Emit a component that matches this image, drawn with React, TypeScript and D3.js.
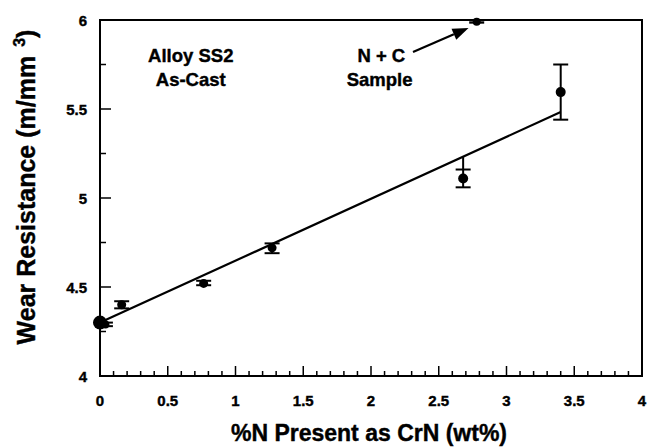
import React from "react";
import * as d3 from "d3";

const xValues = [0, 0.04, 0.16, 0.765, 1.27, 2.68, 3.4];
const yValues = [4.3, 4.29, 4.4, 4.52, 4.72, 5.11, 5.595];
const errLow = [4.3, 4.28, 4.38, 4.51, 4.69, 5.06, 5.44];
const errHigh = [4.3, 4.3, 4.42, 4.535, 4.745, 5.16, 5.75];
const stemTop = [4.3, 4.3, 4.42, 4.535, 4.745, 5.23, 5.75];
const dotRadius = [7, 4, 4.5, 4.5, 4.5, 5, 5];

const ncX = [2.78];
const ncY = [5.99];
const ncLow = [5.985];
const ncHigh = [5.997];

const fitX = [0, 3.4];
const fitY = [4.3, 5.483];

const xMajorTicks = [0, 0.5, 1, 1.5, 2, 2.5, 3, 3.5, 4];
const xMinorTicks = d3.range(0, 4.0001, 0.1);
const yMajorTicks = [4, 4.5, 5, 5.5, 6];
const yMinorTicks = [4.25, 4.75, 5.25, 5.75];

const W = 651;
const H = 447;
const FONT = "'Liberation Sans', Arial, Helvetica, sans-serif";

export default function App() {
  const x = d3.scaleLinear().domain([0, 4]).range([100, 642]);
  const y = d3.scaleLinear().domain([4, 6]).range([376, 20]);
  const line = d3.line<number>()
    .x((_, i) => x(fitX[i]))
    .y((_, i) => y(fitY[i]));

  const capW = 7.5;
  const arrowTail = { x: 2.31, y: 5.82 };
  const arrowTip = { x: 2.72, y: 5.955 };
  const ax1 = x(arrowTail.x), ay1 = y(arrowTail.y);
  const ax2 = x(arrowTip.x), ay2 = y(arrowTip.y);
  const ang = Math.atan2(ay2 - ay1, ax2 - ax1);
  const headL = 16, headW = 6;
  const bx = ax2 - headL * Math.cos(ang), by = ay2 - headL * Math.sin(ang);
  const head = [
    [ax2, ay2],
    [bx + headW * Math.sin(ang), by - headW * Math.cos(ang)],
    [bx - headW * Math.sin(ang), by + headW * Math.cos(ang)],
  ];
  const txt = { fontWeight: "bold" as const, stroke: "#000", strokeWidth: 0.4 };

  return (
    <svg width={W} height={H} style={{ position: "absolute", left: 0, top: 0, background: "#fff" }} fontFamily={FONT}>
      <rect x={0} y={0} width={W} height={H} fill="#fff" />
      <rect x={x(0)} y={y(6)} width={x(4) - x(0)} height={y(4) - y(6)} fill="none" stroke="#000" strokeWidth={2} />
      {xMinorTicks.map((t, i) => {
        const major = i % 5 === 0;
        return <line key={"xm" + i} x1={x(t)} x2={x(t)} y1={y(4)} y2={y(4) - (major ? 10 : 5)} stroke="#000" strokeWidth={1.5} />;
      })}
      {xMajorTicks.map((t) => (
        <text key={"xl" + t} x={x(t)} y={406} textAnchor="middle" fontSize={15} {...txt}>{String(t)}</text>
      ))}
      {yMajorTicks.map((t) => (
        <g key={"yl" + t}>
          <line x1={x(0)} x2={x(0) + 11} y1={y(t)} y2={y(t)} stroke="#000" strokeWidth={1.5} />
          <text x={87} y={y(t) + 5.5} textAnchor="end" fontSize={15} {...txt}>{String(t)}</text>
        </g>
      ))}
      {yMinorTicks.map((t) => (
        <line key={"ym" + t} x1={x(0)} x2={x(0) + 6} y1={y(t)} y2={y(t)} stroke="#000" strokeWidth={1.5} />
      ))}
      <path d={line(fitX) || ""} fill="none" stroke="#000" strokeWidth={2.2} />
      {xValues.map((v, i) => (
        <g key={"p" + i}>
          <line x1={x(v)} x2={x(v)} y1={y(errLow[i])} y2={y(stemTop[i])} stroke="#000" strokeWidth={2} />
          {errHigh[i] > errLow[i] && (
            <>
              <line x1={x(v) - capW} x2={x(v) + capW} y1={y(errLow[i])} y2={y(errLow[i])} stroke="#000" strokeWidth={2} />
              <line x1={x(v) - capW} x2={x(v) + capW} y1={y(errHigh[i])} y2={y(errHigh[i])} stroke="#000" strokeWidth={2} />
            </>
          )}
          <circle cx={x(v)} cy={y(yValues[i])} r={dotRadius[i]} fill="#000" />
        </g>
      ))}
      {ncX.map((v, i) => (
        <g key={"nc" + i}>
          <line x1={x(v)} x2={x(v)} y1={y(ncLow[i])} y2={y(ncHigh[i])} stroke="#000" strokeWidth={2} />
          <line x1={x(v) - capW} x2={x(v) + capW} y1={y(ncLow[i])} y2={y(ncLow[i])} stroke="#000" strokeWidth={2} />
          <line x1={x(v) - capW} x2={x(v) + capW} y1={y(ncHigh[i])} y2={y(ncHigh[i])} stroke="#000" strokeWidth={2} />
          <circle cx={x(v)} cy={y(ncY[i])} r={4} fill="#000" />
        </g>
      ))}
      <line x1={ax1} y1={ay1} x2={bx} y2={by} stroke="#000" strokeWidth={2.2} />
      <polygon points={head.map((p) => p.join(",")).join(" ")} fill="#000" />
      <text x={x(0.67)} y={y(5.764)} textAnchor="middle" fontSize={18.5} {...txt}>Alloy SS2</text>
      <text x={x(0.67)} y={y(5.629)} textAnchor="middle" fontSize={18.5} {...txt}>As-Cast</text>
      <text x={x(2.076)} y={y(5.764)} textAnchor="middle" fontSize={18.5} {...txt}>N + C</text>
      <text x={x(2.063)} y={y(5.629)} textAnchor="middle" fontSize={18.5} {...txt}>Sample</text>
      <text x={369} y={441} textAnchor="middle" fontSize={23} {...txt}>%N Present as CrN (wt%)</text>
      <text transform="translate(35,187) rotate(-90)" textAnchor="middle" fontSize={25} {...txt}>
        Wear Resistance (m/mm<tspan dx={9} dy={-10} fontSize={16}>3</tspan><tspan dy={10}>)</tspan>
      </text>
    </svg>
  );
}
